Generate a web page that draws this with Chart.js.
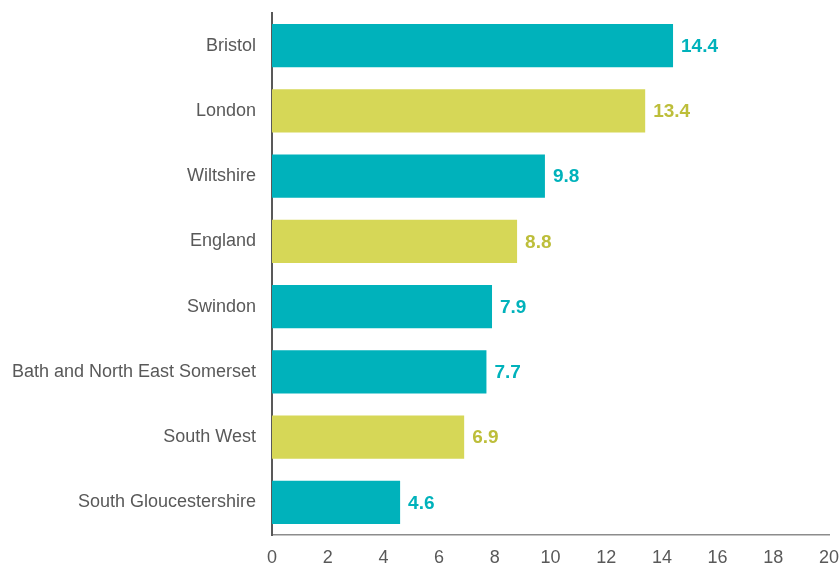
<!DOCTYPE html>
<html>
<head>
<meta charset="utf-8">
<script src="https://cdn.jsdelivr.net/npm/chart.js@4.4.1/dist/chart.umd.min.js"></script>
<style>
  html, body { margin: 0; padding: 0; background: #fff; }
  #wrap { width: 839px; height: 565px; }
</style>
</head>
<body>
<div id="wrap"><canvas id="rateChart"></canvas></div>
<script>
// areas and their rates
var areas = ["Bristol", "London", "Wiltshire", "England", "Swindon",
  "Bath and North East Somerset", "South West", "South Gloucestershire"];
var rates = [14.4, 13.4, 9.8, 8.8, 7.9, 7.7, 6.9, 4.6];
// comparator areas get the lime colour
var isComparator = [false, true, false, true, false, false, true, false];
var xTicks = [0, 2, 4, 6, 8, 10, 12, 14, 16, 18, 20];

var teal = '#00B2BB';
var lime = '#D6D757';
var limeText = '#BDBE3A';
var fontFamily = '"Liberation Sans", Arial, sans-serif';

var barColours = isComparator.map(function (c) { return c ? lime : teal; });
var labelColours = isComparator.map(function (c) { return c ? limeText : teal; });

// value written just past the end of each bar
const valueLabels = {
  id: 'valueLabels',
  afterDatasetsDraw(chart) {
    const ctx = chart.ctx;
    const meta = chart.getDatasetMeta(0);
    ctx.save();
    ctx.font = 'bold 19px ' + fontFamily;
    ctx.textBaseline = 'middle';
    ctx.textAlign = 'left';
    meta.data.forEach(function (bar, i) {
      ctx.fillStyle = labelColours[i];
      ctx.fillText(rates[i].toFixed(1), bar.x + 8, bar.y + 1);
    });
    ctx.restore();
  }
};

const ctx = document.getElementById('rateChart').getContext('2d');
const rateChart = new Chart(ctx, {
  type: 'bar',
  data: {
    labels: areas,
    datasets: [{
      data: rates,
      backgroundColor: barColours,
      borderWidth: 0,
      barPercentage: 0.66,
      categoryPercentage: 1
    }]
  },
  options: {
    indexAxis: 'y',
    responsive: true,
    maintainAspectRatio: false,
    animation: false,
    layout: { autoPadding: false, padding: { top: 13, right: 10, left: 0, bottom: 0 } },
    plugins: {
      legend: { display: false },
      tooltip: { enabled: false }
    },
    scales: {
      x: {
        min: 0,
        max: 20,
        afterBuildTicks: function (scale) {
          scale.ticks = xTicks.map(function (v) { return { value: v }; });
        },
        afterFit: function (scale) {
          scale.height = 30;
          scale.paddingLeft = 0;
          scale.paddingRight = 0;
        },
        grid: { display: false, drawTicks: false },
        border: { display: true, color: '#8c8c8c', width: 1.5 },
        ticks: {
          color: '#595959',
          padding: 12,
          maxRotation: 0,
          font: { family: fontFamily, size: 18 }
        }
      },
      y: {
        afterFit: function (scale) {
          scale.width = 272;
          scale.paddingTop = 0;
          scale.paddingBottom = 0;
        },
        grid: { display: false, drawTicks: false },
        border: { display: true, color: '#595959', width: 2 },
        ticks: {
          color: '#595959',
          padding: 16,
          font: { family: fontFamily, size: 18 }
        }
      }
    }
  },
  plugins: [valueLabels]
});
</script>
</body>
</html>
